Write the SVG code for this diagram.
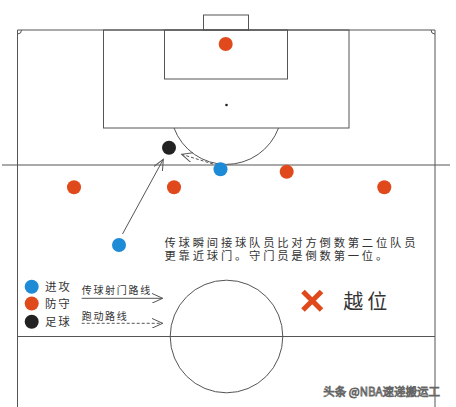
<svg xmlns="http://www.w3.org/2000/svg" width="456" height="407" viewBox="0 0 456 407">
<defs>
<style>
.ln{fill:none;stroke:#555;stroke-width:1}
.dash{stroke-dasharray:3 2}
.atk{fill:#1d8bd6}
.def{fill:#e0491b}
.ball{fill:#222}
.t{font-family:"Noto Sans CJK SC","Noto Sans",sans-serif;fill:#333}
</style>
<marker id="ah" viewBox="0 0 12 10" refX="11" refY="5" markerWidth="12" markerHeight="10" markerUnits="userSpaceOnUse" orient="auto">
<path d="M0,0 L11,5 L0,10" fill="none" stroke="#555" stroke-width="1"/>
</marker>
</defs>
<rect width="456" height="407" fill="#fff"/>
<g id="field">
<path class="ln" d="M17.5,407 V30 H435 V407"/>
<rect class="ln" x="203.5" y="15" width="45" height="15"/>
<rect class="ln" x="103.5" y="30" width="245.5" height="98"/>
<rect class="ln" x="164.5" y="30" width="123" height="49"/>
<circle cx="226.5" cy="105" r="1.3" fill="#222"/>
<path class="ln" d="M174,128 A55.7,55.7 0 0 0 278.5,128"/>
<path class="ln" d="M17.5,34 A4,4 0 0 0 21.5,30 M435,34 A4,4 0 0 1 431,30"/>
<line class="ln" x1="17.5" y1="336.5" x2="435" y2="336.5" stroke-width="1.2"/>
<circle class="ln" cx="226.5" cy="336.5" r="56.3"/>
<line class="ln" x1="2" y1="165" x2="450" y2="165" stroke="#444"/>
</g>
<g id="connectors">
<line class="ln" x1="122.5" y1="234" x2="163.3" y2="159.3" marker-end="url(#ah)"/>
<line class="ln dash" x1="213" y1="164" x2="181.7" y2="154.3" marker-end="url(#ah)"/>
<line class="ln" x1="81.7" y1="298.3" x2="162.7" y2="298.3" marker-end="url(#ah)"/>
<line class="ln dash" x1="81.7" y1="323.3" x2="162.7" y2="323.3" marker-end="url(#ah)"/>
</g>
<g id="goalkeeper"><circle class="def" cx="225.7" cy="44" r="7"/></g>
<g id="ball"><circle class="ball" cx="169" cy="147.7" r="7"/></g>
<g id="attacker1"><circle class="atk" cx="220.5" cy="169.3" r="7"/></g>
<g id="attacker2"><circle class="atk" cx="119" cy="245" r="7"/></g>
<g id="defender1"><circle class="def" cx="286.7" cy="171.7" r="7"/></g>
<g id="defender2"><circle class="def" cx="74" cy="187.3" r="7"/></g>
<g id="defender3"><circle class="def" cx="174" cy="187.3" r="7"/></g>
<g id="defender4"><circle class="def" cx="384.3" cy="187.3" r="7"/></g>
<g id="note">
<text class="t" font-size="11.3" letter-spacing="2.8"><tspan x="164.5" y="246.8">传球瞬间接球队员比对方倒数第二位队员</tspan><tspan x="164.5" y="259.5">更靠近球门。守门员是倒数第一位。</tspan></text>
</g>
<g id="legend">
<circle class="atk" cx="31.7" cy="286.7" r="7"/>
<text class="t" x="45" y="291" font-size="11.5" letter-spacing="1.8">进攻</text>
<circle class="def" cx="31.7" cy="303.5" r="7"/>
<text class="t" x="45" y="308" font-size="11.5" letter-spacing="1.8">防守</text>
<circle class="ball" cx="31.7" cy="321.7" r="7"/>
<text class="t" x="45" y="326" font-size="11.5" letter-spacing="1.8">足球</text>
<text class="t" x="81.7" y="294" font-size="10" letter-spacing="1.7">传球射门路线</text>
<text class="t" x="81.7" y="320" font-size="10" letter-spacing="1.7">跑动路线</text>
</g>
<g id="offside">
<path d="M303,291.5 L321.5,310 M321.5,291.5 L303,310" stroke="#e0491b" stroke-width="5" fill="none"/>
<text class="t" x="343.3" y="309" font-size="20" letter-spacing="4">越位</text>
</g>
<text x="323.3" y="395.5" font-size="11.5" font-family="'Noto Sans CJK SC','Noto Sans',sans-serif" fill="#fff" stroke="#666" stroke-width="0.8">头条 @NBA速递搬运工</text>
</svg>
